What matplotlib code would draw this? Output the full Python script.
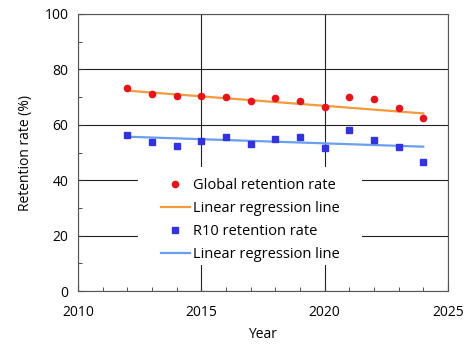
import numpy as np
import matplotlib
matplotlib.use("Agg")
import matplotlib.pyplot as plt
from matplotlib.ticker import MultipleLocator
from matplotlib.patches import Rectangle

# datos
anios = [2012, 2013, 2014, 2015, 2016, 2017, 2018, 2019, 2020, 2021, 2022, 2023, 2024]
global_rate = [73.4, 71.0, 70.5, 70.3, 69.9, 68.7, 69.6, 68.7, 66.4, 70.1, 69.2, 66.2, 62.3]
r10_rate = [56.4, 53.7, 52.5, 54.3, 55.5, 53.0, 55.0, 55.5, 51.7, 58.2, 54.4, 52.0, 46.5]

# extremos de las rectas de regresion
reg_anios = [2012, 2024]
reg_global = [72.3, 64.1]
reg_r10 = [55.7, 52.1]

plt.rcParams['font.family'] = ['Open Sans', 'DejaVu Sans']

fig = plt.figure(figsize=(4.73, 3.47), dpi=100)
ax = fig.add_axes([0.165, 0.161, 0.782, 0.799])

ax.plot(anios, global_rate, 'o', color='#e8141c', ms=4.5, label='Global retention rate', zorder=3)
ax.plot(reg_anios, reg_global, color='#f39a3a', lw=1.6, label='Linear regression line', zorder=2)
ax.plot(anios, r10_rate, 's', color='#3333dd', ms=4.5, label='R10 retention rate', zorder=3)
ax.plot(reg_anios, reg_r10, color='#6a9ff0', lw=1.6, label='Linear regression line', zorder=2)

ax.set_xlim(2010, 2025)
ax.set_ylim(0, 100)
ax.xaxis.set_major_locator(MultipleLocator(5))
ax.xaxis.set_minor_locator(MultipleLocator(1))
ax.yaxis.set_major_locator(MultipleLocator(20))
ax.yaxis.set_minor_locator(MultipleLocator(10))
ax.tick_params(which='both', direction='in', labelsize=10, color='#333333')
ax.tick_params(which='major', length=4)
ax.tick_params(which='minor', length=3)
ax.tick_params(axis='x', pad=10)
ax.tick_params(axis='y', pad=7)
ax.grid(True, which='major', color='#222222', lw=0.8)
for s in ax.spines.values():
    s.set_color('#555555')

ax.set_xlabel('Year', fontsize=10, labelpad=5)
ax.set_ylabel('Retention rate (%)', fontsize=10, labelpad=8)

# fondo blanco de la leyenda (tapa la cuadricula)
ax.add_patch(Rectangle((0.162, 0.094), 0.605, 0.354, transform=ax.transAxes,
                       facecolor='white', edgecolor='none', zorder=1.6))

leg = ax.legend(loc='center', bbox_to_anchor=(0.465, 0.255), frameon=False, fontsize=10.5,
                handlelength=2.0, handletextpad=0.2, labelspacing=0.55, borderpad=0.3)

fig.savefig('out.png', dpi=100)
